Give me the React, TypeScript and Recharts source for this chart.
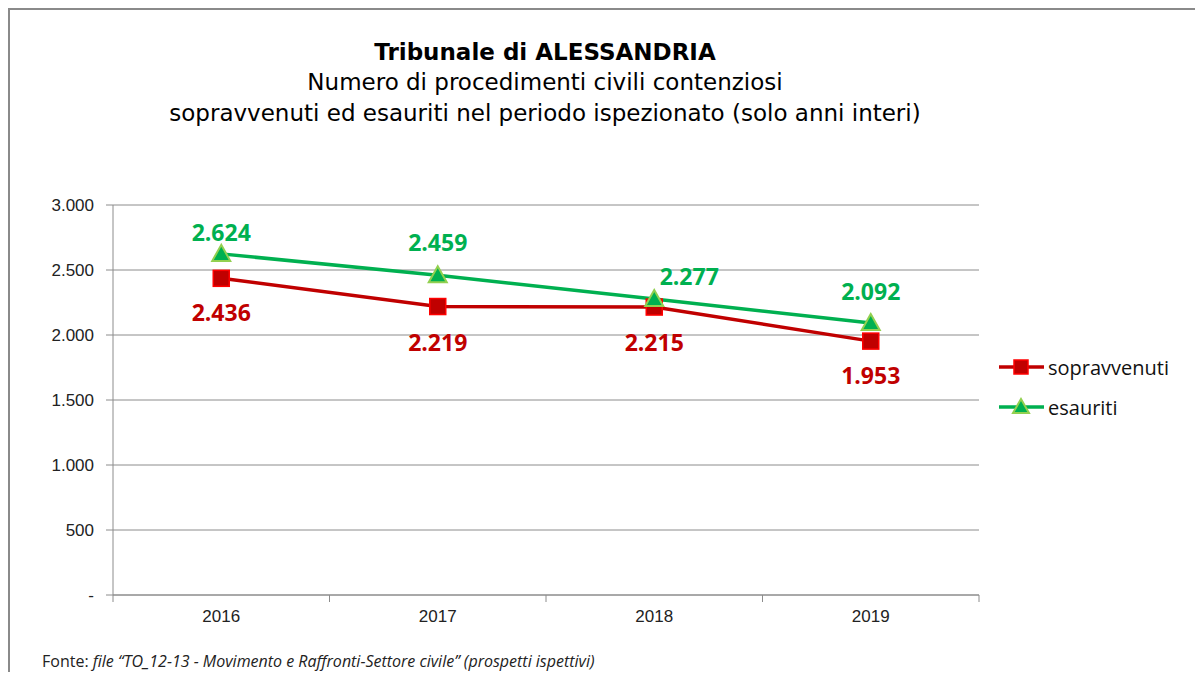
import React from 'react';
import { LineChart, Line, XAxis, YAxis, CartesianGrid, LabelList } from 'recharts';

const years = ['2016', '2017', '2018', '2019'];
const sopravvenuti = [2436, 2219, 2215, 1953];
const esauriti = [2624, 2459, 2277, 2092];
const yTicks = [0, 500, 1000, 1500, 2000, 2500, 3000];

const RED = '#C00000';
const GREEN = '#00B050';
const GRID = '#8c8c8c';

const data = years.map((year, i) => ({
  year,
  sopravvenuti: sopravvenuti[i],
  esauriti: esauriti[i],
}));

// label nudges, like the hand-moved labels in the original
const greenNudge = [[0, -22], [0, -33], [35, -23], [0, -32]];
const redNudge = [[0, 34], [0, 35], [0, 35], [0, 34]];

const fmt = (v: number) => (v === 0 ? '-' : String(v).replace(/\B(?=(\d{3})+(?!\d))/g, '.'));

const Square = ({ cx, cy }: any) => (
  <rect x={cx - 8} y={cy - 8} width={16} height={16} fill={RED} stroke="#FF0000" strokeWidth={1.5} />
);

const Triangle = ({ cx, cy }: any) => (
  <polygon
    points={`${cx},${cy - 9} ${cx - 9},${cy + 7} ${cx + 9},${cy + 7}`}
    fill={GREEN}
    stroke="#92D050"
    strokeWidth={2}
  />
);

const makeLabel = (color: string, nudge: number[][]) => (props: any) => {
  const { x, y, value, index } = props;
  const [dx, dy] = nudge[index] || [0, 0];
  return (
    <text
      x={x + dx}
      y={y + dy}
      textAnchor="middle"
      dominantBaseline="central"
      fill={color}
      fontFamily="'Open Sans', sans-serif"
      fontWeight="bold"
      fontSize={23}
    >
      {fmt(value)}
    </text>
  );
};

const XTick = ({ x, y, payload, index }: any) => {
  const half = payload && payload.offset ? payload.offset : 108.25;
  return (
    <g>
      <line x1={x - half} x2={x - half} y1={y} y2={y + 7} stroke={GRID} />
      {index === years.length - 1 && <line x1={x + half} x2={x + half} y1={y} y2={y + 7} stroke={GRID} />}
      <text
        x={x}
        y={y + 21}
        textAnchor="middle"
        dominantBaseline="central"
        fill="#222"
        fontFamily="'Liberation Sans', Arial, sans-serif"
        fontSize={17}
      >
        {payload.value}
      </text>
    </g>
  );
};

const LegendRow = ({ label, color, marker }: { label: string; color: string; marker: 'square' | 'triangle' }) => (
  <div style={{ display: 'flex', alignItems: 'center', height: 24 }}>
    <svg width={48} height={20}>
      <line x1={1} x2={46} y1={10} y2={10} stroke={color} strokeWidth={3.5} />
      {marker === 'square' ? (
        <rect x={16} y={3} width={14} height={14} fill={RED} stroke="#FF0000" strokeWidth={1.5} />
      ) : (
        <polygon points="23,2 15,16 31,16" fill={GREEN} stroke="#92D050" strokeWidth={2} />
      )}
    </svg>
    <span style={{ marginLeft: 2, fontSize: 20, color: '#111', fontFamily: "'Open Sans', sans-serif" }}>{label}</span>
  </div>
);

export default function App() {
  const titleStyle: React.CSSProperties = {
    position: 'absolute',
    left: 35,
    width: 1000,
    textAlign: 'center',
    lineHeight: '30px',
    fontFamily: "'DejaVu Sans', Verdana, sans-serif",
    fontSize: 23,
    color: '#000',
  };
  return (
    <div
      style={{
        position: 'relative',
        marginRight: -8,
        height: 662,
        borderTop: '2px solid #8a8a8a',
        borderLeft: '2px solid #8a8a8a',
        background: '#fff',
        overflow: 'hidden',
      }}
    >
      <div style={{ ...titleStyle, top: 27, fontWeight: 'bold' }}>Tribunale di ALESSANDRIA</div>
      <div style={{ ...titleStyle, top: 57 }}>Numero di procedimenti civili contenziosi</div>
      <div style={{ ...titleStyle, top: 88 }}>sopravvenuti ed esauriti nel periodo ispezionato (solo anni interi)</div>

      <div style={{ position: 'absolute', top: 0, left: 0 }}>
        <LineChart width={1185} height={660} data={data} margin={{ top: 195, right: 216, bottom: 45, left: 43 }}>
          <CartesianGrid vertical={false} stroke={GRID} strokeDasharray="" />
          <XAxis
            dataKey="year"
            scale="band"
            height={30}
            axisLine={{ stroke: GRID }}
            tickLine={false}
            tickSize={0}
            tickMargin={0}
            tick={<XTick />}
            interval={0}
          />
          <YAxis
            width={60}
            domain={[0, 3000]}
            ticks={yTicks}
            tickFormatter={fmt}
            axisLine={{ stroke: GRID }}
            tickLine={{ stroke: GRID }}
            tickSize={7}
            tickMargin={12}
            tick={{ fill: '#222', fontSize: 17, fontFamily: "'Liberation Sans', Arial, sans-serif" }}
            interval={0}
          />
          <Line
            dataKey="sopravvenuti"
            stroke={RED}
            strokeWidth={3.5}
            dot={<Square />}
            activeDot={false}
            isAnimationActive={false}
          >
            <LabelList dataKey="sopravvenuti" content={makeLabel(RED, redNudge)} />
          </Line>
          <Line
            dataKey="esauriti"
            stroke={GREEN}
            strokeWidth={3.5}
            dot={<Triangle />}
            activeDot={false}
            isAnimationActive={false}
          >
            <LabelList dataKey="esauriti" content={makeLabel(GREEN, greenNudge)} />
          </Line>
        </LineChart>
      </div>

      <div style={{ position: 'absolute', left: 988, top: 345 }}>
        <LegendRow label="sopravvenuti" color={RED} marker="square" />
        <div style={{ height: 16 }} />
        <LegendRow label="esauriti" color={GREEN} marker="triangle" />
      </div>

      <div
        style={{
          position: 'absolute',
          left: 32,
          top: 642,
          lineHeight: '18px',
          fontSize: 16,
          color: '#222',
          fontFamily: "'Open Sans', sans-serif",
        }}
      >
        Fonte: <i>file “TO_12-13 - Movimento e Raffronti-Settore civile” (prospetti ispettivi)</i>
      </div>
    </div>
  );
}
